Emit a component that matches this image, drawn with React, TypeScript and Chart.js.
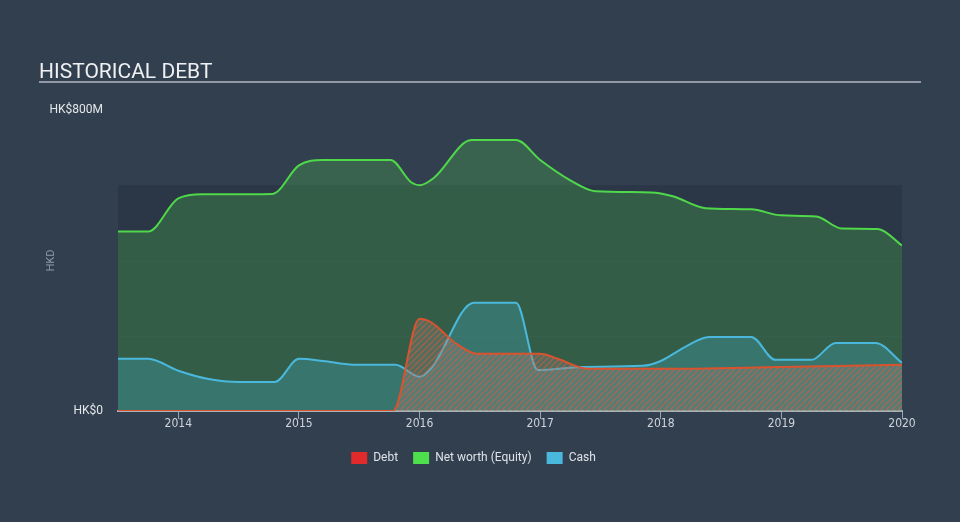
import React, { useEffect, useRef } from 'react';
import { Chart, registerables } from 'chart.js';

Chart.register(...registerables);

// ---- data (values in HK$ millions, x in decimal years) ----
const yearTicks = [2014, 2015, 2016, 2017, 2018, 2019, 2020];
const yTickValues = [0, 800];

const netWorthX = [2013.5, 2013.75, 2014.0, 2014.2, 2014.78, 2015.0, 2015.2, 2015.76, 2015.93, 2016.0, 2016.12, 2016.43, 2016.8, 2017.0, 2017.25, 2017.46, 2017.92, 2018.1, 2018.37, 2018.75, 2019.0, 2019.29, 2019.5, 2019.8, 2020.0];
const netWorthY = [477, 477, 565, 576, 577, 653, 667, 667, 608, 600, 620, 720, 720, 667, 613, 584, 581, 571, 539, 536, 520, 517, 485, 484, 440];

const cashX = [2013.5, 2013.75, 2014.0, 2014.25, 2014.5, 2014.8, 2015.0, 2015.2, 2015.45, 2015.8, 2016.0, 2016.1, 2016.45, 2016.8, 2016.98, 2017.35, 2017.85, 2018.0, 2018.2, 2018.4, 2018.75, 2018.95, 2019.25, 2019.45, 2019.78, 2020.0];
const cashY = [139, 139, 107, 85, 77, 77, 139, 133, 123, 123, 91, 115, 288, 288, 109, 117, 120, 133, 170, 197, 197, 136, 136, 181, 181, 128];

const debtX = [2013.5, 2015.78, 2016.0, 2016.1, 2016.3, 2016.48, 2017.0, 2017.15, 2017.4, 2018.0, 2019.0, 2020.0];
const debtY = [0, 0, 245, 235, 180, 152, 152, 138, 112, 112, 117, 123];

const seriesNames = ['Debt', 'Net worth (Equity)', 'Cash'];

const pts = (xs: number[], ys: number[]) => xs.map((x, i) => ({ x, y: ys[i] }));

const BG = '#323f4f';
const BAND = '#2b3646';

function makeHatch(): CanvasPattern | string {
  const c = document.createElement('canvas');
  c.width = 6;
  c.height = 6;
  const g = c.getContext('2d');
  if (!g) return 'rgba(200,90,70,0.3)';
  g.fillStyle = 'rgba(140,140,130,0.35)';
  g.fillRect(0, 0, 6, 6);
  g.strokeStyle = 'rgba(225,90,65,0.55)';
  g.lineWidth = 1.3;
  g.beginPath();
  g.moveTo(0, 6);
  g.lineTo(6, 0);
  g.moveTo(-3, 3);
  g.lineTo(3, -3);
  g.moveTo(3, 9);
  g.lineTo(9, 3);
  g.stroke();
  const p = g.createPattern(c, 'repeat');
  return p || 'rgba(200,90,70,0.3)';
}

const decorPlugin = {
  id: 'decor',
  beforeDraw(chart: any) {
    const { ctx, chartArea, scales } = chart;
    const y = scales.y;
    ctx.save();
    // plot band
    const top = y.getPixelForValue(600);
    ctx.fillStyle = BAND;
    ctx.fillRect(chartArea.left, top, chartArea.right - chartArea.left, chartArea.bottom - top);
    // faint band lines
    ctx.strokeStyle = 'rgba(255,255,255,0.025)';
    ctx.lineWidth = 1;
    [200, 400].forEach((v) => {
      const py = Math.round(y.getPixelForValue(v)) + 0.5;
      ctx.beginPath();
      ctx.moveTo(chartArea.left, py);
      ctx.lineTo(chartArea.right, py);
      ctx.stroke();
    });
    // title
    ctx.fillStyle = '#eef0f2';
    ctx.font = '21px Roboto, "Open Sans", sans-serif';
    ctx.textBaseline = 'alphabetic';
    ctx.textAlign = 'left';
    ctx.fillText('HISTORICAL DEBT', 39, 78);
    ctx.strokeStyle = '#b4b9c0';
    ctx.lineWidth = 1.5;
    ctx.beginPath();
    ctx.moveTo(39, 82);
    ctx.lineTo(921, 82);
    ctx.stroke();
    ctx.restore();
  },
};

export default function App() {
  const ref = useRef<HTMLCanvasElement | null>(null);

  useEffect(() => {
    document.body.style.margin = '0';
    if (!ref.current) return;
    const hatch = makeHatch();
    const chart = new Chart(ref.current, {
      type: 'line',
      data: {
        datasets: [
          {
            label: seriesNames[0],
            data: pts(debtX, debtY),
            borderColor: '#d9532f',
            backgroundColor: hatch as any,
            fill: 'origin',
            borderWidth: 2,
            pointRadius: 0,
            cubicInterpolationMode: 'monotone',
            order: 0,
          },
          {
            label: seriesNames[1],
            data: pts(netWorthX, netWorthY),
            borderColor: '#4fd84a',
            backgroundColor: 'rgba(79,216,74,0.24)',
            fill: 'origin',
            borderWidth: 2,
            pointRadius: 0,
            cubicInterpolationMode: 'monotone',
            order: 2,
          },
          {
            label: seriesNames[2],
            data: pts(cashX, cashY),
            borderColor: '#4ab8dc',
            backgroundColor: 'rgba(74,184,220,0.26)',
            fill: 'origin',
            borderWidth: 2,
            pointRadius: 0,
            cubicInterpolationMode: 'monotone',
            order: 1,
          },
        ],
      },
      options: {
        animation: false,
        responsive: true,
        maintainAspectRatio: false,
        layout: { padding: { top: 110, left: 45, right: 58, bottom: 48 } },
        scales: {
          x: {
            type: 'linear',
            min: 2013.5,
            max: 2020.0,
            afterBuildTicks: (s: any) => {
              s.ticks = yearTicks.map((v) => ({ value: v }));
            },
            afterFit: (s: any) => {
              s.height = 26;
            },
            ticks: {
              color: '#d0d4da',
              font: { family: '"Liberation Sans Narrow", "DejaVu Sans Condensed", Roboto, sans-serif', size: 12 },
              padding: -2,
              callback: (v: any) => String(v),
              maxRotation: 0,
            },
            grid: { display: true, drawOnChartArea: false, drawTicks: true, tickLength: 8, color: '#9aa3ae' },
            border: { display: true, color: '#a9b0b9', width: 2 },
          },
          y: {
            type: 'linear',
            min: 0,
            max: 800,
            afterBuildTicks: (s: any) => {
              s.ticks = yTickValues.map((v) => ({ value: v }));
            },
            afterFit: (s: any) => {
              s.width = 73;
            },
            ticks: {
              color: '#e4e7ea',
              font: { family: 'Roboto, sans-serif', size: 12 },
              padding: 15,
              callback: (v: any) => (v === 0 ? 'HK$0' : 'HK$' + v + 'M'),
            },
            grid: { display: false, drawTicks: false },
            border: { display: false },
            title: { display: true, text: 'HKD', color: '#8f99a5', font: { family: 'Roboto, sans-serif', size: 11 }, padding: 0 },
          },
        },
        plugins: {
          legend: {
            position: 'bottom',
            labels: {
              color: '#dfe2e6',
              font: { family: 'Roboto, sans-serif', size: 12 },
              boxWidth: 16,
              boxHeight: 12,
              padding: 15,
              generateLabels: (c: any) => {
                const cols = ['#e12a2a', '#4ddf4c', '#4ab8dc'];
                return c.data.datasets.map((d: any, i: number) => ({
                  text: d.label,
                  fillStyle: cols[i],
                  strokeStyle: cols[i],
                  lineWidth: 0,
                  fontColor: '#dfe2e6',
                  hidden: false,
                  datasetIndex: i,
                }));
              },
            },
          },
          tooltip: { enabled: false },
        },
      },
      plugins: [decorPlugin],
    });
    return () => chart.destroy();
  }, []);

  return (
    <div style={{ position: 'fixed', left: 0, top: 0, width: 960, height: 522, background: BG }}>
      <canvas ref={ref} />
    </div>
  );
}
